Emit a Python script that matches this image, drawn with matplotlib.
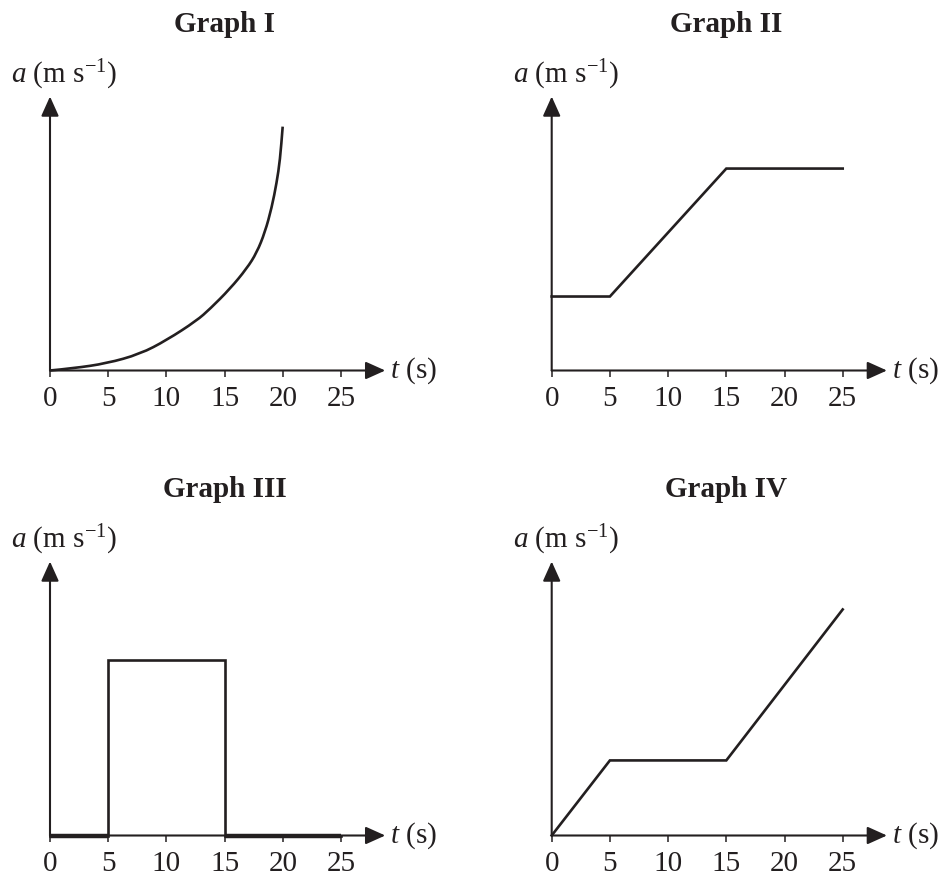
import numpy as np
import matplotlib
matplotlib.use("Agg")
import matplotlib.pyplot as plt
from matplotlib.path import Path
from matplotlib.patches import PathPatch

plt.rcParams['font.family'] = ['Liberation Serif', 'DejaVu Serif']
plt.rcParams['mathtext.fontset'] = 'custom'
plt.rcParams['mathtext.rm'] = 'Liberation Serif'
plt.rcParams['mathtext.it'] = 'Liberation Serif:italic'
plt.rcParams['mathtext.bf'] = 'Liberation Serif:bold'

# data (t in s, a in arbitrary units)
tick_values = [0, 5, 10, 15, 20, 25]
titles = ['Graph I', 'Graph II', 'Graph III', 'Graph IV']

g1_t = [0, 2.0, 4.87, 7.73, 10.03, 12.6, 13.75, 15.46, 16.9, 17.76, 18.47, 19.05, 19.47, 19.76, 19.99]
g1_a = [0, 0.08, 0.26, 0.60, 1.11, 1.82, 2.25, 2.98, 3.72, 4.3, 5.05, 5.95, 6.85, 7.68, 8.90]

g2_t = [0, 5, 15, 25]
g2_a = [2.7, 2.7, 7.37, 7.37]

g3_t = [0, 5, 5, 15, 15, 25]
g3_a = [0, 0, 6.42, 6.42, 0, 0]

g4_t = [0, 5, 15, 25]
g4_a = [0, 2.74, 2.74, 8.25]

W, H = 943, 877
SX, SY = 11.64, 27.4   # pixels per data unit
INK = '#231f20'
FS = 21

fig = plt.figure(figsize=(W / 100, H / 100), dpi=100)


def panel(ox, oy, x0, y0, x1, y1):
    ax = fig.add_axes([x0 / W, 1 - y1 / H, (x1 - x0) / W, (y1 - y0) / H])
    ax.set_xlim((x0 - ox) / SX, (x1 - ox) / SX)
    ax.set_ylim((oy - y1) / SY, (oy - y0) / SY)
    ax.patch.set_alpha(0)
    for s in ['top', 'right', 'left']:
        ax.spines[s].set_visible(False)
    ax.spines['bottom'].set_position(('data', 0))
    ax.spines['bottom'].set_color('none')
    ax.set_yticks([])
    ax.set_xticks(tick_values)
    ax.set_xticklabels([str(v) for v in tick_values])
    ax.tick_params(axis='x', direction='out', length=4, width=1.1, color=INK,
                   labelsize=FS, pad=7.5, labelcolor=INK)
    arrow = dict(arrowstyle='-|>,head_length=0.6,head_width=0.27', lw=1.5,
                 color=INK, mutation_scale=20, shrinkA=0, shrinkB=0)
    ax.annotate('', xy=(28.8, 0), xytext=(0, 0), arrowprops=arrow)
    ax.annotate('', xy=(0, 10.0), xytext=(0, 0), arrowprops=arrow)
    ax.text(29.2, 0.0, '$t$ (s)', fontsize=FS, ha='left', va='center', color=INK)
    ax.text(-3.35, 10.8, '$a$ (m s$^{-1}$)', fontsize=FS, ha='left', va='center', color=INK)
    return ax


def smooth_path(t, a):
    # quadratic segments through the midpoints, so the sketch reads as a curve
    pts = list(zip(t, a))
    verts = [pts[0]]
    codes = [Path.MOVETO]
    for k in range(1, len(pts) - 1):
        mid = ((pts[k][0] + pts[k + 1][0]) / 2, (pts[k][1] + pts[k + 1][1]) / 2)
        verts += [pts[k], mid]
        codes += [Path.CURVE3, Path.CURVE3]
    verts.append(pts[-1])
    codes.append(Path.LINETO)
    return Path(verts, codes)


origins = [(50, 370.5), (551.7, 370.5), (50, 835.5), (551.7, 835.5)]
regions = [(0, 0, 471, 438), (471, 0, 943, 438), (0, 438, 471, 877), (471, 438, 943, 877)]
series = [(g1_t, g1_a), (g2_t, g2_a), (g3_t, g3_a), (g4_t, g4_a)]

for i in range(4):
    ax = panel(*origins[i], *regions[i])
    t, a = series[i]
    if i == 0:
        ax.add_patch(PathPatch(smooth_path(t, a), facecolor='none', edgecolor=INK, lw=1.9))
    else:
        ax.plot(t, a, color=INK, lw=1.9, solid_joinstyle='miter', clip_on=False)
    if i == 2:
        # the zero stretches are drawn heavier on the baseline
        ax.plot(t[:2], a[:2], color=INK, lw=3.2, solid_capstyle='butt')
        ax.plot(t[4:], a[4:], color=INK, lw=3.2, solid_capstyle='butt')
    ax.text(15, 12.63, titles[i], fontsize=FS, fontweight='bold', ha='center',
            va='center', color=INK)

fig.savefig('out.png', dpi=100)
